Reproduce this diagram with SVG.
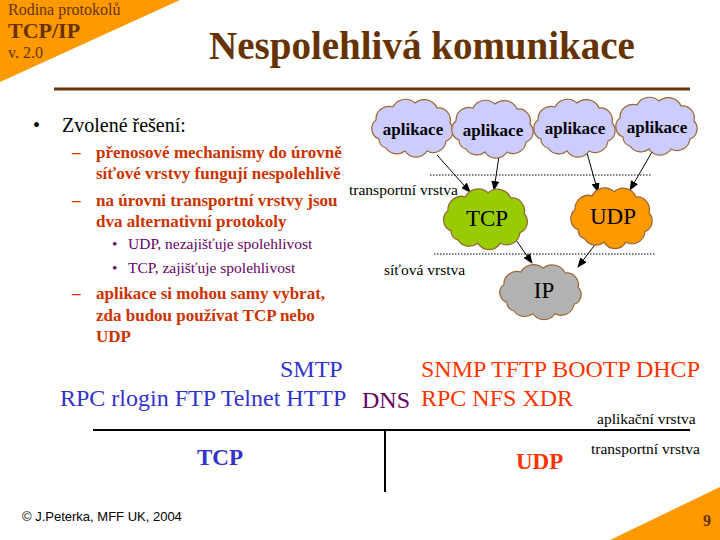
<svg xmlns="http://www.w3.org/2000/svg" width="720" height="540" viewBox="0 0 720 540">
<defs>
<path id="cl" d="M-34,12 A11 11 0 0 1 -37,-7 A13 13 0 0 1 -20,-20 A14 14 0 0 1 2,-24 A14 14 0 0 1 24,-19 A12 12 0 0 1 37,-4 A11 11 0 0 1 33,14 A13 13 0 0 1 14,24 A13 13 0 0 1 -8,24 A13 13 0 0 1 -27,21 A9 9 0 0 1 -34,12 Z"/>
<marker id="ar" markerWidth="10" markerHeight="8" refX="9" refY="4" orient="auto" markerUnits="userSpaceOnUse"><path d="M0,0 L10,4 L0,8 Z" fill="#000"/></marker>
</defs>
<style>
text{font-family:"Liberation Serif","Times New Roman",serif}
text.sans{font-family:"Liberation Sans",Arial,sans-serif}
.cl{stroke:#996633;stroke-width:1.2}
.red{fill:#CC3300;font-size:17px;font-weight:bold}
.pur{fill:#660066;font-size:15.5px}
.lbl{font-size:15.5px;fill:#000000}
.big{font-size:24px}
.app{font-size:17px;font-weight:bold;text-anchor:middle}
.pr{font-size:23px;text-anchor:middle}
</style>
<rect width="720" height="540" fill="#fff"/>
<polygon points="0,0 180,0 0,82" fill="#FF9900"/>
<polygon points="720,487 720,540 610,540" fill="#FF9900"/>
<text x="8" y="15" font-size="16" fill="#663300">Rodina protokolů</text>
<text x="8" y="38" font-size="22" font-weight="bold" fill="#663300">TCP/IP</text>
<text x="8" y="58" font-size="16" fill="#663300">v. 2.0</text>
<text x="422" y="59" text-anchor="middle" font-size="39" font-weight="bold" fill="#663300">Nespolehlivá komunikace</text>
<line x1="54" y1="89" x2="690" y2="89" stroke="#663300" stroke-width="3"/>
<g id="text-left">
<text x="33" y="132" font-size="20" fill="#000">•</text>
<text x="62" y="132" font-size="20" fill="#000">Zvolené řešení:</text>
<text x="72" y="158" class="red">–</text><text x="96" y="158" class="red">přenosové mechanismy do úrovně</text>
<text x="96" y="179" class="red">síťové vrstvy fungují nespolehlivě</text>
<text x="72" y="206" class="red">–</text><text x="96" y="206" class="red">na úrovni transportní vrstvy jsou</text>
<text x="96" y="227" class="red">dva alternativní protokoly</text>
<text x="112" y="249" class="pur">•</text><text x="128" y="249" class="pur">UDP, nezajišťuje spolehlivost</text>
<text x="112" y="273" class="pur">•</text><text x="128" y="273" class="pur">TCP, zajišťuje spolehlivost</text>
<text x="72" y="299" class="red">–</text><text x="96" y="299" class="red">aplikace si mohou samy vybrat,</text>
<text x="96" y="321" class="red">zda budou používat TCP nebo</text>
<text x="96" y="342" class="red">UDP</text>
</g>
<g id="connectors" stroke="#000" stroke-width="1">
<line x1="430" y1="175" x2="651" y2="175" stroke-dasharray="1.5,1.5"/>
<line x1="434" y1="254" x2="655" y2="254" stroke-dasharray="1.5,1.5"/>
<line x1="437" y1="155" x2="470" y2="192" marker-end="url(#ar)"/>
<line x1="499" y1="156" x2="494" y2="190" marker-end="url(#ar)"/>
<line x1="587" y1="153" x2="598" y2="192" marker-end="url(#ar)"/>
<line x1="652" y1="152" x2="630" y2="190" marker-end="url(#ar)"/>
<line x1="516" y1="240" x2="532" y2="263" marker-end="url(#ar)"/>
<line x1="597" y1="242" x2="578" y2="267" marker-end="url(#ar)"/>
</g>
<g id="app1"><use href="#cl" transform="translate(413,127)" fill="#CCCCFF" class="cl"/><text x="413" y="135" class="app">aplikace</text></g>
<g id="app2"><use href="#cl" transform="translate(493,128)" fill="#CCCCFF" class="cl"/><text x="493" y="136" class="app">aplikace</text></g>
<g id="app3"><use href="#cl" transform="translate(575,127)" fill="#CCCCFF" class="cl"/><text x="575" y="134" class="app">aplikace</text></g>
<g id="app4"><use href="#cl" transform="translate(657,125)" fill="#CCCCFF" class="cl"/><text x="657" y="133" class="app">aplikace</text></g>
<g id="tcp"><use href="#cl" transform="translate(486,218) scale(1.03,1.05)" fill="#99CC00" class="cl"/><text x="487" y="226" class="pr">TCP</text></g>
<g id="udp"><use href="#cl" transform="translate(612,217) scale(1.0,1.05)" fill="#FF9900" class="cl"/><text x="613" y="224" class="pr">UDP</text></g>
<g id="ip"><use href="#cl" transform="translate(541,291) scale(1.0,0.95)" fill="#B2B2B2" class="cl"/><text x="544" y="298" class="pr">IP</text></g>
<text x="349" y="195" class="lbl">transportní vrstva</text>
<text x="384" y="275" class="lbl">síťová vrstva</text>
<g id="bottom">
<text x="280" y="377" class="big" fill="#3333CC">SMTP</text>
<text x="60" y="406" class="big" fill="#3333CC">RPC rlogin FTP Telnet HTTP</text>
<text x="362" y="408" class="big" fill="#660066">DNS</text>
<text x="421" y="377" class="big" fill="#FF3300">SNMP TFTP BOOTP DHCP</text>
<text x="421" y="406" class="big" fill="#FF3300">RPC NFS XDR</text>
<text x="597" y="424" class="lbl">aplikační vrstva</text>
<text x="591" y="454" class="lbl">transportní vrstva</text>
<line x1="93" y1="430" x2="690" y2="430" stroke="#000" stroke-width="2"/>
<line x1="385" y1="430" x2="385" y2="492" stroke="#000" stroke-width="2"/>
<text x="197" y="465" font-size="23" font-weight="bold" fill="#3333CC">TCP</text>
<text x="516" y="469" font-size="23" font-weight="bold" fill="#FF3300">UDP</text>
</g>
<text x="22" y="521" font-size="13" class="sans">© J.Peterka, MFF UK, 2004</text>
<text x="703" y="526" font-size="16" font-weight="bold" fill="#663300">9</text>
</svg>
